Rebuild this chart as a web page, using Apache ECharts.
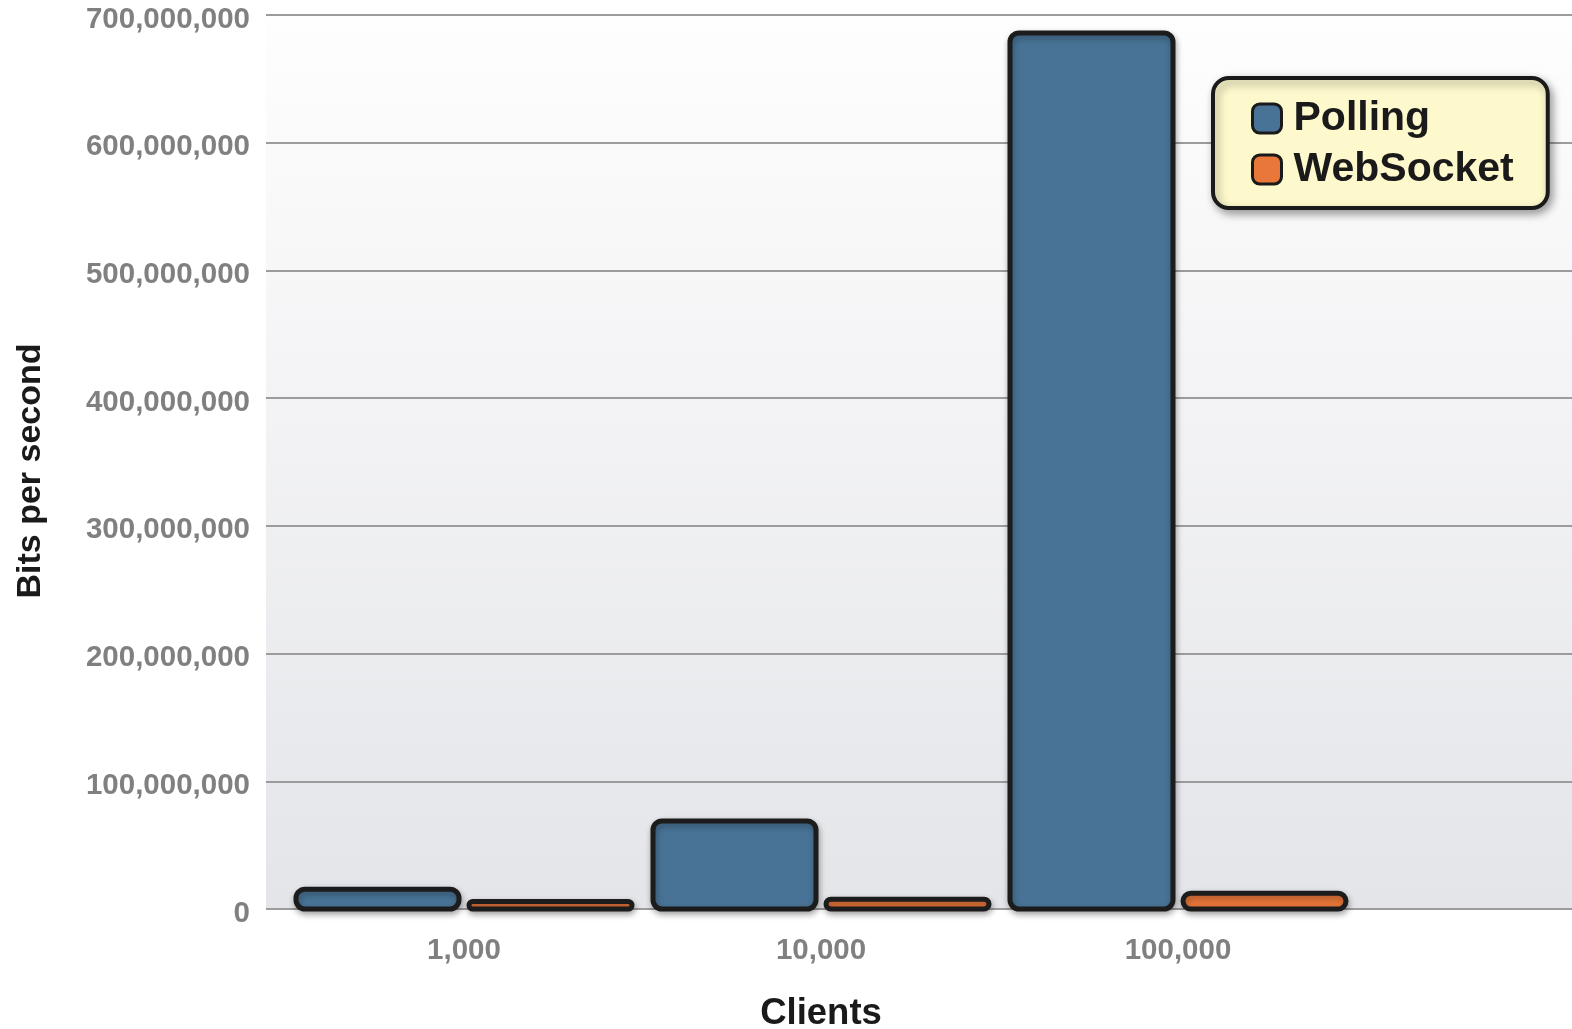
<!DOCTYPE html>
<html>
<head>
<meta charset="utf-8">
<script src="https://cdn.jsdelivr.net/npm/echarts@6/dist/echarts.min.js"></script>
<style>
html,body{margin:0;padding:0;background:#fff;}
#chart{width:1572px;height:1029px;}
</style>
</head>
<body>
<div id="chart"></div>
<script>
const categories = ['1,000', '10,000', '100,000'];
const pollingValues = [15500000, 69000000, 686000000];
const websocketValues = [5900000, 7700000, 12400000];
const yTicks = [0, 100000000, 200000000, 300000000, 400000000, 500000000, 600000000, 700000000];
const seriesNames = ['Polling', 'WebSocket'];
const seriesColors = ['#487396', '#e9773a'];
const yAxisTitle = 'Bits per second';
const xAxisTitle = 'Clients';

const FONT = '"Liberation Sans", Arial, Helvetica, sans-serif';
const chart = echarts.init(document.getElementById('chart'), null, {renderer: 'canvas'});

const fmt = v => '{t|' + v.toString().replace(/\B(?=(\d{3})+(?!\d))/g, ',') + '}';

const BAR_W = 163;      // stroke-centre width of one bar
const BAR_STEP = 173;   // centre distance between the two bars of a group
const LINE_W = 5;

function makeRenderer(seriesIdx, color) {
  const sign = seriesIdx === 0 ? -1 : 1;
  return function (params, api) {
    const cat = api.value(0);
    const val = api.value(1);
    const top = api.coord([cat, val]);
    const base = api.coord([cat, 0]);
    const cx = top[0] + sign * BAR_STEP / 2;
    const h = base[1] - top[1];
    return {
      type: 'rect',
      shape: {x: cx - BAR_W / 2, y: top[1], width: BAR_W, height: h, r: Math.min(9, h / 2)},
      style: {
        fill: color, stroke: '#1c1c1c', lineWidth: LINE_W,
        shadowBlur: 6, shadowColor: 'rgba(0,0,0,0.3)', shadowOffsetX: 1, shadowOffsetY: 3
      }
    };
  };
}

const option = {
  animation: false,
  backgroundColor: '#ffffff',
  grid: [
    {
      left: 266, right: 0, top: 15, bottom: 120,
      outerBoundsMode: 'none', containLabel: false,
      show: true, borderWidth: 0,
      backgroundColor: new echarts.graphic.LinearGradient(0, 0, 0, 1, [
        {offset: 0, color: '#fefefe'},
        {offset: 1, color: '#e4e5e9'}
      ])
    },
    {
      left: 285.5, width: 1071, top: 15, bottom: 120,
      outerBoundsMode: 'none', containLabel: false
    }
  ],
  xAxis: [
    {
      gridIndex: 0, type: 'value', show: false, min: 0, max: 1
    },
    {
      gridIndex: 1, type: 'category', data: categories,
      axisLine: {show: false}, axisTick: {show: false},
      axisLabel: {margin: 27, fontSize: 29.5, fontWeight: 'bold', color: '#808080', fontFamily: FONT},
      name: xAxisTitle, nameLocation: 'middle', nameGap: 86,
      nameTextStyle: {fontSize: 36.5, fontWeight: 'bold', color: '#1a1a1a', fontFamily: FONT}
    }
  ],
  yAxis: [
    {
      gridIndex: 0, type: 'value', min: yTicks[0], max: yTicks[yTicks.length - 1], interval: yTicks[1] - yTicks[0],
      axisLine: {show: false}, axisTick: {show: false},
      axisLabel: {
        margin: 16, formatter: fmt,
        rich: {t: {fontSize: 29.5, fontWeight: 'bold', color: '#808080', fontFamily: FONT, lineHeight: 30, padding: [9, 0, 0, 0]}}
      },
      splitLine: {show: true, showMinLine: true, showMaxLine: true, lineStyle: {color: '#9c9c9c', width: 2}}
    },
    {
      gridIndex: 1, type: 'value', show: false, min: yTicks[0], max: yTicks[yTicks.length - 1]
    }
  ],
  graphic: [
    {
      type: 'text', x: 31, y: 471, rotation: Math.PI / 2,
      style: {
        text: yAxisTitle, fontSize: 34, fontWeight: 'bold', fill: '#1a1a1a', fontFamily: FONT,
        align: 'center', verticalAlign: 'middle'
      }
    }
  ],
  legend: {
    orient: 'vertical',
    left: 1213, top: 78,
    padding: [20, 34, 18, 38],
    itemGap: 10,
    itemWidth: 29, itemHeight: 29,
    icon: 'roundRect',
    backgroundColor: '#fdf9cc',
    borderColor: '#1a1a1a', borderWidth: 4, borderRadius: 16,
    shadowBlur: 8, shadowColor: 'rgba(0,0,0,0.35)', shadowOffsetX: 3, shadowOffsetY: 4,
    itemStyle: {borderColor: '#1a1a1a', borderWidth: 3},
    textStyle: {fontSize: 41, lineHeight: 38, fontWeight: 'bold', color: '#1a1a1a', fontFamily: FONT, padding: [0, 0, 0, 7]},
    data: [
      {name: seriesNames[0], itemStyle: {color: seriesColors[0], borderColor: '#1a1a1a', borderWidth: 3}},
      {name: seriesNames[1], itemStyle: {color: seriesColors[1], borderColor: '#1a1a1a', borderWidth: 3}}
    ]
  },
  series: [
    {
      name: seriesNames[0], type: 'custom', xAxisIndex: 1, yAxisIndex: 1, clip: false,
      itemStyle: {color: seriesColors[0]},
      encode: {x: 0, y: 1},
      data: pollingValues.map((v, i) => [i, v]),
      renderItem: makeRenderer(0, seriesColors[0])
    },
    {
      name: seriesNames[1], type: 'custom', xAxisIndex: 1, yAxisIndex: 1, clip: false,
      itemStyle: {color: seriesColors[1]},
      encode: {x: 0, y: 1},
      data: websocketValues.map((v, i) => [i, v]),
      renderItem: makeRenderer(1, seriesColors[1])
    }
  ]
};
chart.setOption(option);
</script>
</body>
</html>
